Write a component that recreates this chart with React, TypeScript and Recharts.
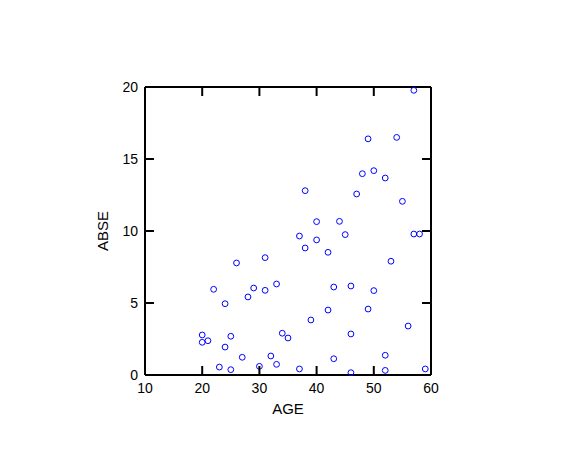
import { ScatterChart, Scatter, XAxis, YAxis } from "recharts";

// AGE vs ABSE observations
const age = [
  20, 20, 21, 22, 23, 24, 24, 25, 25, 26, 27, 28, 29, 30, 31, 31, 32, 33, 33, 34,
  35, 37, 37, 38, 38, 39, 40, 40, 42, 42, 43, 43, 44, 45, 46, 46, 46, 47, 48, 49,
  49, 50, 50, 52, 52, 52, 53, 54, 55, 56, 57, 57, 58, 59,
];
const abse = [
  2.78, 2.27, 2.38, 5.95, 0.55, 4.95, 1.94, 2.69, 0.37, 7.78, 1.23, 5.42, 6.04, 0.6,
  8.15, 5.88, 1.32, 6.32, 0.74, 2.9, 2.57, 9.65, 0.42, 12.8, 8.82, 3.82, 10.65, 9.38,
  8.52, 4.51, 6.11, 1.13, 10.67, 9.75, 6.18, 2.85, 0.16, 12.57, 13.98, 16.4, 4.58,
  14.19, 5.86, 13.68, 1.37, 0.32, 7.9, 16.5, 12.06, 3.4, 19.77, 9.79, 9.79, 0.42,
];
const xTicks = [10, 20, 30, 40, 50, 60];
const yTicks = [0, 5, 10, 15, 20];

const points = age.map((a, i) => ({ age: a, abse: abse[i] }));

const FONT = "'Liberation Sans', Arial, sans-serif";
const TICK_LEN = 9;

const BottomTick = ({ x, y, payload }: any) => (
  <g>
    <line x1={x} y1={y} x2={x} y2={y - TICK_LEN} stroke="#000" strokeWidth={2} />
    <text x={x} y={y + 18} textAnchor="middle" fontSize={14} fontFamily={FONT} fill="#000">
      {payload.value}
    </text>
  </g>
);

const TopTick = ({ x, y }: any) => (
  <line x1={x} y1={y} x2={x} y2={y + TICK_LEN} stroke="#000" strokeWidth={2} />
);

const LeftTick = ({ x, y, payload }: any) => (
  <g>
    <line x1={x} y1={y} x2={x + TICK_LEN} y2={y} stroke="#000" strokeWidth={2} />
    <text x={x - 7} y={y + 5} textAnchor="end" fontSize={14} fontFamily={FONT} fill="#000">
      {payload.value}
    </text>
  </g>
);

const RightTick = ({ x, y }: any) => (
  <line x1={x} y1={y} x2={x - TICK_LEN} y2={y} stroke="#000" strokeWidth={2} />
);

const Dot = (props: any) => (
  <circle cx={props.cx} cy={props.cy} r={2.9} fill="none" stroke="#0000ff" strokeWidth={1} />
);

const NoDot = () => <g />;

export default function App() {
  return (
    <ScatterChart width={568} height={453} margin={{ top: 78, right: 144, bottom: 0, left: 0 }}>
      <XAxis
        xAxisId="bottom"
        dataKey="age"
        type="number"
        domain={[10, 60]}
        ticks={xTicks}
        height={86}
        axisLine={{ stroke: "#000", strokeWidth: 2 }}
        tickLine={false}
        tickSize={0}
        tickMargin={0}
        tick={<BottomTick />}
        interval={0}
        label={({ viewBox }: any) => (
          <text
            x={viewBox.x + viewBox.width / 2}
            y={viewBox.y + 39}
            textAnchor="middle"
            fontSize={15}
            fontFamily={FONT}
            fill="#000"
          >
            AGE
          </text>
        )}
      />
      <XAxis
        xAxisId="top"
        orientation="top"
        dataKey="age"
        type="number"
        domain={[10, 60]}
        ticks={xTicks}
        height={1}
        axisLine={{ stroke: "#000", strokeWidth: 2 }}
        tickLine={false}
        tickSize={0}
        tickMargin={0}
        tick={<TopTick />}
        interval={0}
      />
      <YAxis
        yAxisId="left"
        dataKey="abse"
        type="number"
        domain={[0, 20]}
        ticks={yTicks}
        width={137}
        axisLine={{ stroke: "#000", strokeWidth: 2 }}
        tickLine={false}
        tickSize={0}
        tickMargin={0}
        tick={<LeftTick />}
        interval={0}
        label={({ viewBox }: any) => {
          const cx = viewBox.x + viewBox.width - 37;
          const cy = viewBox.y + viewBox.height / 2;
          return (
            <text
              x={cx}
              y={cy}
              transform={`rotate(-90 ${cx} ${cy})`}
              textAnchor="middle"
              fontSize={15}
              fontFamily={FONT}
              fill="#000"
            >
              ABSE
            </text>
          );
        }}
      />
      <YAxis
        yAxisId="right"
        orientation="right"
        dataKey="abse"
        type="number"
        domain={[0, 20]}
        ticks={yTicks}
        width={1}
        axisLine={{ stroke: "#000", strokeWidth: 2 }}
        tickLine={false}
        tickSize={0}
        tickMargin={0}
        tick={<RightTick />}
        interval={0}
      />
      <Scatter
        data={points}
        xAxisId="top"
        yAxisId="right"
        shape={<NoDot />}
        legendType="none"
        isAnimationActive={false}
      />
      <Scatter
        data={points}
        xAxisId="bottom"
        yAxisId="left"
        shape={<Dot />}
        isAnimationActive={false}
      />
    </ScatterChart>
  );
}
